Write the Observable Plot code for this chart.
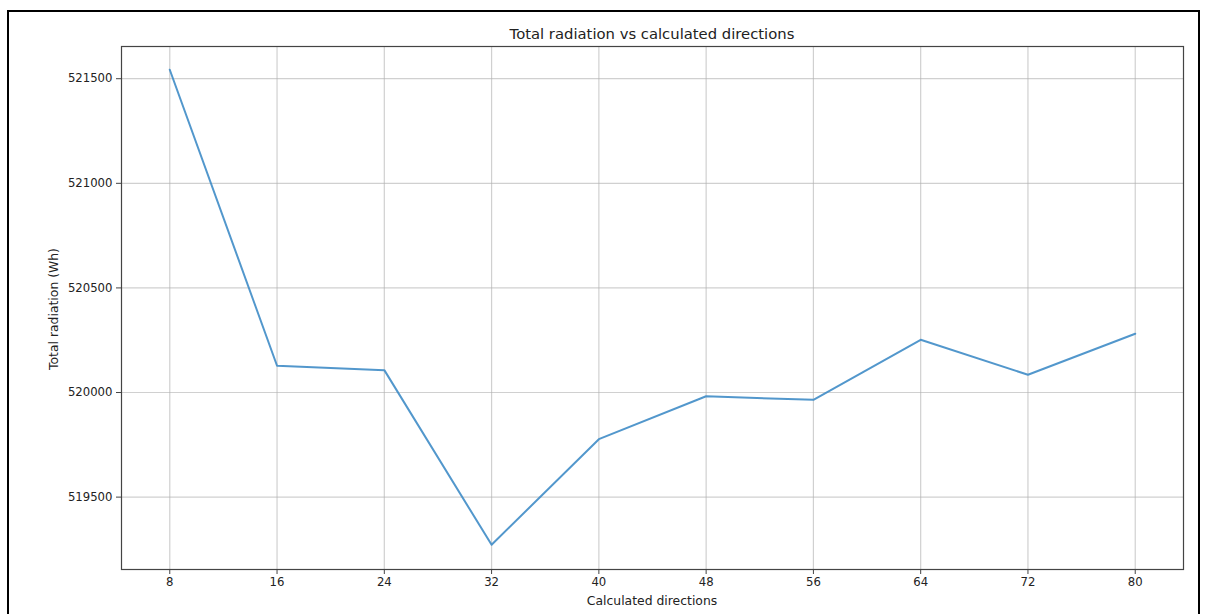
<!DOCTYPE html>
<html><head><meta charset="utf-8">
<script src="https://cdn.jsdelivr.net/npm/d3@7"></script>
<script src="https://cdn.jsdelivr.net/npm/@observablehq/plot@0.6"></script>
<style>
body{margin:0;background:#fff;font-family:"DejaVu Sans",sans-serif;}
#wrap{position:relative;width:1208px;height:614px;overflow:hidden;background:#fff;}
#border{position:absolute;left:7px;top:10px;width:1193px;height:640px;border:2px solid #000;box-sizing:border-box;}
#chart{position:absolute;left:0;top:0;}
.lbl{position:absolute;color:#222;font-family:"DejaVu Sans",sans-serif;white-space:nowrap;}
#title{top:25px;left:121px;width:1062px;text-align:center;font-size:14.8px;line-height:18px;}
#xlabel{top:593px;left:121px;width:1062px;text-align:center;font-size:12.4px;line-height:15px;}
#ylabel{left:53px;top:309px;font-size:12.4px;line-height:15px;transform:translate(-50%,-50%) rotate(-90deg);}
</style></head><body>
<div id="wrap">
  <div id="chart"></div>
  <div id="border"></div>
  <div class="lbl" id="title">Total radiation vs calculated directions</div>
  <div class="lbl" id="xlabel">Calculated directions</div>
  <div class="lbl" id="ylabel">Total radiation (Wh)</div>
</div>
<script>
const directions = [8, 16, 24, 32, 40, 48, 56, 64, 72, 80];
const radiation = [521543, 520128, 520107, 519272, 519777, 519982, 519965, 520252, 520085, 520281];
const xTicks = [8, 16, 24, 32, 40, 48, 56, 64, 72, 80];
const yTicks = [519500, 520000, 520500, 521000, 521500];

const data = directions.map((d, i) => ({d, r: radiation[i]}));

const plot = Plot.plot({
  width: 1208,
  height: 614,
  marginLeft: 121,
  marginRight: 25,
  marginTop: 46,
  marginBottom: 45,
  style: {fontFamily: "DejaVu Sans", fontSize: "11.7px", color: "#222", background: "transparent"},
  x: {domain: [4.4, 83.6]},
  y: {domain: [519154, 521654]},
  marks: [
    Plot.gridX(xTicks, {stroke: "#b0b0b0", strokeOpacity: 0.6, strokeWidth: 1.2}),
    Plot.gridY(yTicks, {stroke: "#b0b0b0", strokeOpacity: 0.6, strokeWidth: 1.2}),
    Plot.line(data, {x: "d", y: "r", stroke: "#3f8cc6", strokeWidth: 2, strokeOpacity: 0.9}),
    Plot.frame({stroke: "#444", strokeWidth: 1.2}),
    Plot.axisX({ticks: xTicks, tickFormat: d => String(d), label: null, tickSize: 5, tickPadding: 3, stroke: "#444"}),
    Plot.axisY({ticks: yTicks, tickFormat: d => String(d), label: null, tickSize: 5, tickPadding: 4, stroke: "#444"})
  ]
});
document.getElementById("chart").appendChild(plot);
</script>
</body></html>
